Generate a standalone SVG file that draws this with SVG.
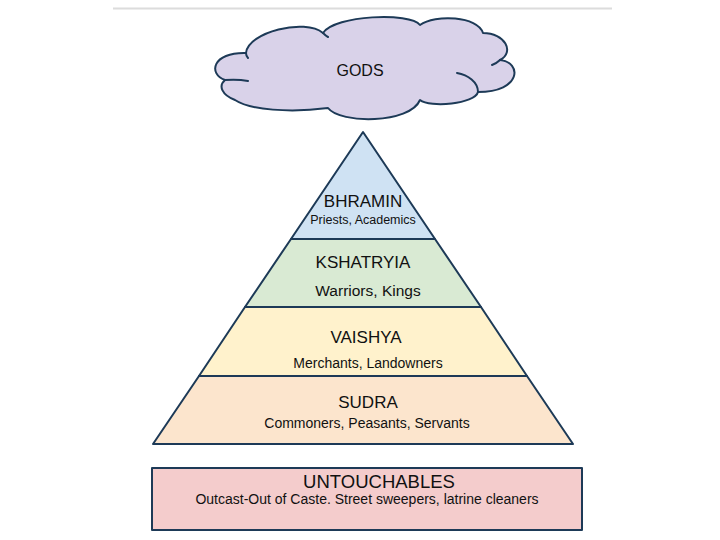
<svg xmlns="http://www.w3.org/2000/svg" width="720" height="540" viewBox="0 0 720 540">
<style>
.s{stroke:#1d3a57;stroke-width:2;stroke-linejoin:round;stroke-linecap:round}
.t{font-family:"Liberation Sans",Arial,sans-serif;fill:#111;text-anchor:middle}
.h{font-size:17px}
.d{font-size:14px}
</style>
<rect width="720" height="540" fill="#fff"/>
<line x1="113" y1="8.5" x2="612" y2="8.5" stroke="#dcdcdc" stroke-width="2"/>
<g id="gods">
<path class="s" fill="#d9d2e9" d="M225,80 C208,74 212,52 246,53 C248,32 305,18 323,33 C335,15 410,12 420,25 C435,14 478,16 483,33 C505,33 515,52 500,60 C522,62 522,92 478,92 C475,104 430,108 420,100 C410,124 340,124 328,108 C290,113 250,110 235,100 C222,95 218,86 225,80 Z"/>
<path class="s" fill="none" d="M225,80 Q238,79 248,81 M457,73 C468,75 478,82 478,92 M500,60 Q497,63 492,65 M246,53 Q246,56 248,58 M323,33 Q326,36 328,37"/>
<text class="t" x="360" y="76" font-size="16">GODS</text>
</g>
<g id="bhramin">
<polygon class="s" fill="#cfe2f3" points="363,132 435,239 291,239"/>
<text class="t h" x="363" y="207">BHRAMIN</text>
<text class="t" x="363" y="224" font-size="12.5">Priests, Academics</text>
</g>
<g id="kshatryia">
<polygon class="s" fill="#d9ead3" points="291,239 435,239 481,307 245,307"/>
<text class="t h" x="363" y="268">KSHATRYIA</text>
<text class="t" x="368" y="296" font-size="15.5">Warriors, Kings</text>
</g>
<g id="vaishya">
<polygon class="s" fill="#fff2cc" points="245,307 481,307 527,376 199,376"/>
<text class="t h" x="366" y="343">VAISHYA</text>
<text class="t d" x="368" y="368">Merchants, Landowners</text>
</g>
<g id="sudra">
<polygon class="s" fill="#fce5cd" points="199,376 527,376 573,444 153,444"/>
<text class="t h" x="368" y="408">SUDRA</text>
<text class="t d" x="367" y="428">Commoners, Peasants, Servants</text>
</g>
<g id="untouchables">
<rect class="s" fill="#f4cccc" x="152" y="468" width="430" height="62"/>
<text class="t" x="379" y="488" font-size="18.5">UNTOUCHABLES</text>
<text class="t" x="367" y="504" font-size="14">Outcast-Out of Caste. Street sweepers, latrine cleaners</text>
</g>
<g id="connectors"></g>
</svg>
